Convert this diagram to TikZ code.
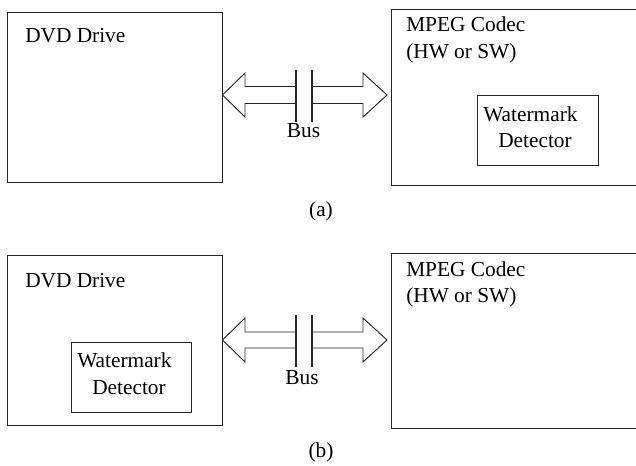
\documentclass[tikz,border=0pt]{standalone}
\usepackage{fontspec}
\setmainfont{Liberation Serif}
\usetikzlibrary{fit}
\begin{document}
\begin{tikzpicture}[x=0.75pt,y=-0.75pt,
  box/.style={draw=black!85,line width=0.7pt,inner sep=0pt},
  lbl/.style={anchor=base west,inner sep=0pt,font=\fontsize{16}{19.5}\selectfont},
  clbl/.style={anchor=base,inner sep=0pt,font=\fontsize{16}{19.5}\selectfont},
  busarrow/.style={draw=black!85,line width=0.7pt,line join=miter},
  busbar/.style={draw=black!85,line width=0.8pt}]
\clip (0,0) rectangle (636,466);
% ---------- panel (a) ----------
\node[box,fit={(7,12) (222,182)}] (dvdA) {};
\node[box,fit={(391,9) (660,185)}] (mpegA) {};
\node[box,fit={(477,95) (598,165)}] (wmA) {};
\node[lbl] (dvdAt) at (25,43) {DVD Drive};
\node[lbl] (mpegAt1) at (406,32) {MPEG Codec};
\node[lbl] (mpegAt2) at (406,59) {(HW or SW)};
\node[lbl] (wmAt1) at (483,122) {Watermark};
\node[lbl] (wmAt2) at (498,148) {Detector};
\coordinate (aL) at (dvdA.east |- 0,95);
\coordinate (aR) at (387,95);
\draw[busarrow] (296,86.5) -- (245,86.5) -- (245,73) -- (aL) -- (245,117) -- (245,103.5) -- (296,103.5);
\draw[busarrow] (312,86.5) -- (363,86.5) -- (363,73) -- (aR) -- (363,117) -- (363,103.5) -- (312,103.5);
\draw[busbar] (296,70) -- (296,122);
\draw[busbar] (312,70) -- (312,122);
\node[clbl] (busA) at (303.5,138) {Bus};
\node[clbl] (capA) at (321,217) {(a)};
% ---------- panel (b) ----------
\node[box,fit={(7,255) (222,425)}] (dvdB) {};
\node[box,fit={(391,253) (660,428)}] (mpegB) {};
\node[box,fit={(71,342) (191,412)}] (wmB) {};
\node[lbl] (dvdBt) at (25,288) {DVD Drive};
\node[lbl] (mpegBt1) at (406,277) {MPEG Codec};
\node[lbl] (mpegBt2) at (406,303) {(HW or SW)};
\node[lbl] (wmBt1) at (77,368) {Watermark};
\node[lbl] (wmBt2) at (92,395) {Detector};
\coordinate (bL) at (dvdB.east |- 0,340);
\coordinate (bR) at (387,340);
\draw[busarrow] (296,332) -- (245,332) -- (245,318) -- (bL) -- (245,362) -- (245,348) -- (296,348);
\draw[busarrow] (312,332) -- (363,332) -- (363,318) -- (bR) -- (363,362) -- (363,348) -- (312,348);
\draw[busbar] (296,315) -- (296,367);
\draw[busbar] (312,315) -- (312,367);
\node[clbl] (busB) at (302,385) {Bus};
\node[clbl] (capB) at (321,458) {(b)};
\end{tikzpicture}
\end{document}
